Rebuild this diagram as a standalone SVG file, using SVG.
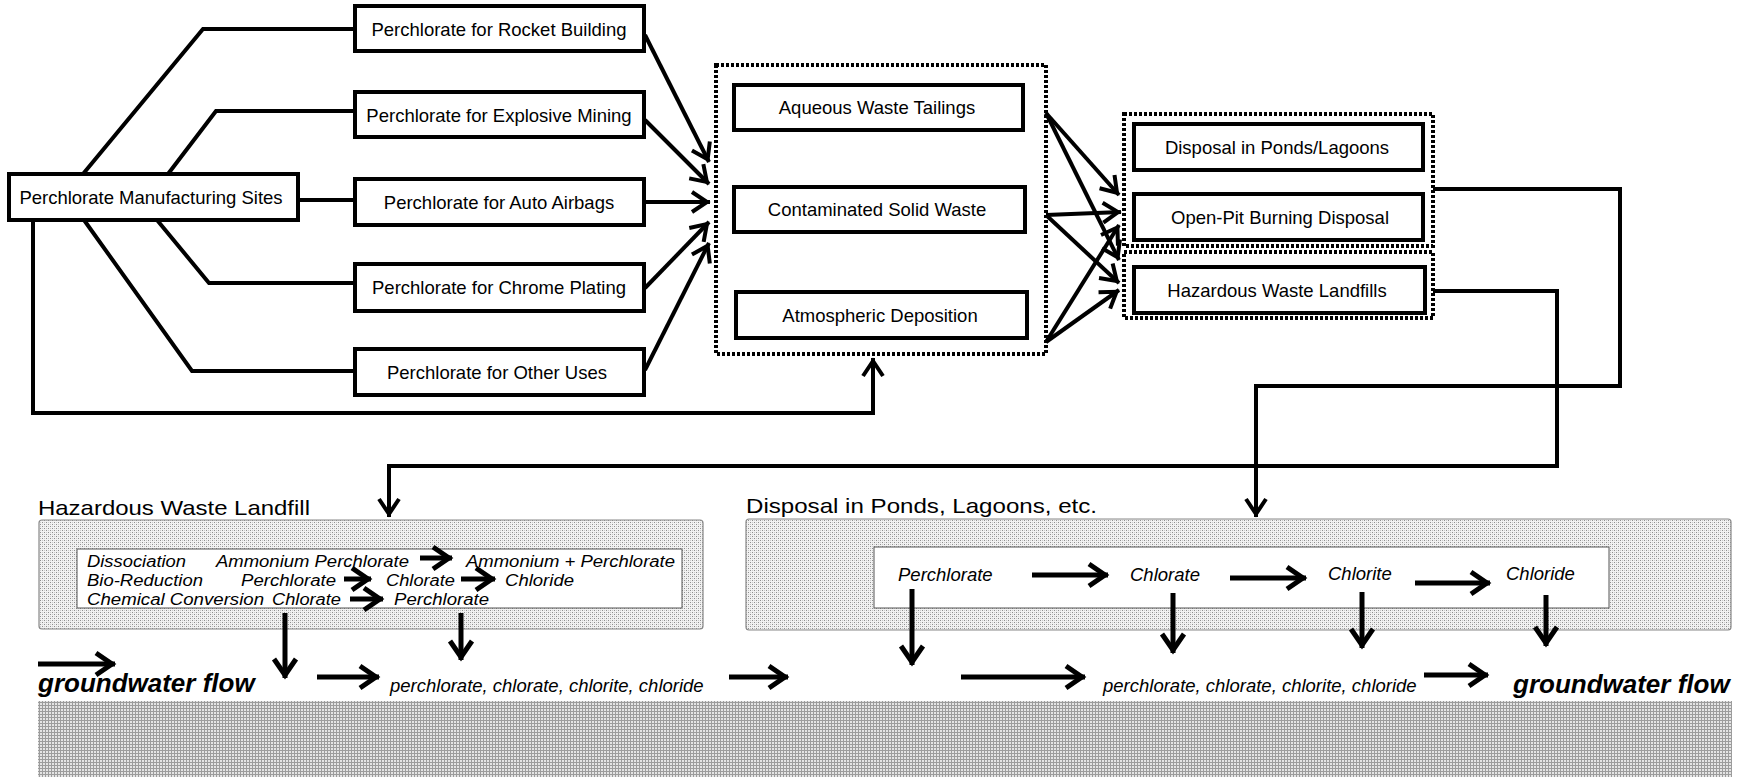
<svg xmlns="http://www.w3.org/2000/svg" width="1756" height="777" viewBox="0 0 1756 777">
<style>
.bx{fill:#fff;stroke:#000;stroke-width:4}
.dot{fill:none;stroke:#000;stroke-width:4;stroke-dasharray:3 2}
.t{font-family:"Liberation Sans",Arial,sans-serif;font-size:18.5px;fill:#000;text-anchor:middle}
.it{font-family:"Liberation Sans",Arial,sans-serif;font-size:18.5px;font-style:italic;fill:#000}
.is{font-family:"Liberation Sans",Arial,sans-serif;font-size:16px;font-style:italic;fill:#000}
.hd{font-family:"Liberation Sans",Arial,sans-serif;font-size:21px;fill:#000}
.gw{font-family:"Liberation Sans",Arial,sans-serif;font-size:26px;font-style:italic;font-weight:bold;fill:#000}
.ln{fill:none;stroke:#000;stroke-width:4;stroke-linejoin:miter}
.ar{fill:none;stroke:#000;stroke-width:4;marker-end:url(#ah)}
.ab{fill:none;stroke:#000;stroke-width:5;marker-end:url(#ab)}
.panel{fill:url(#dots);stroke:#888;stroke-width:1.2}
.inner{fill:#fff;stroke:#555;stroke-width:1}
</style>
<defs>
<marker id="ah" viewBox="-20 -14 26 28" markerWidth="26" markerHeight="28" refX="3" refY="0" orient="auto" markerUnits="userSpaceOnUse">
<path d="M-15,-10 L0,0 L-15,10" fill="none" stroke="#000" stroke-width="4"/>
</marker>
<marker id="ab" viewBox="-22 -15 28 30" markerWidth="28" markerHeight="30" refX="3" refY="0" orient="auto" markerUnits="userSpaceOnUse">
<path d="M-16,-11 L0,0 L-16,11" fill="none" stroke="#000" stroke-width="5"/>
</marker>
<pattern id="dots" width="4" height="4" patternUnits="userSpaceOnUse">
<rect width="4" height="4" fill="#f2f2f2"/>
<rect width="1" height="1" fill="#8e8e8e"/>
<rect x="2" y="2" width="1" height="1" fill="#8e8e8e"/>
<rect x="2" y="0" width="1" height="1" fill="#cacaca"/>
<rect x="0" y="2" width="1" height="1" fill="#cacaca"/>
</pattern>
<pattern id="grid" width="3" height="3" patternUnits="userSpaceOnUse">
<rect width="3" height="3" fill="#e4e4e4"/>
<path d="M0,0.5H3M0.5,0V3" stroke="#9c9c9c" stroke-width="1"/>
</pattern>
</defs>

<g id="connectors">
<path class="ln" d="M83,174 L203,29 L355,29"/>
<path class="ln" d="M168,174 L216,111 L355,111"/>
<path class="ln" d="M298,200 L355,200"/>
<path class="ln" d="M157,220 L209,283 L355,283"/>
<path class="ln" d="M84,220 L192,371 L355,371"/>
<path class="ar" d="M33,220 L33,413 L873,413 L873,358"/>
<path class="ar" d="M645,35 L709,162"/>
<path class="ar" d="M645,120 L709,184"/>
<path class="ar" d="M645,202 L710,202"/>
<path class="ar" d="M645,288 L709,222"/>
<path class="ar" d="M645,370 L709,243"/>
<path class="ar" d="M1046,113 L1119,195"/>
<path class="ar" d="M1046,113 L1119,260"/>
<path class="ar" d="M1046,215 L1121,212"/>
<path class="ar" d="M1046,215 L1119,283"/>
<path class="ar" d="M1046,342 L1119,225"/>
<path class="ar" d="M1046,342 L1119,290"/>
<path class="ar" d="M1433,189 L1620,189 L1620,386 L1256,386 L1256,517"/>
<path class="ar" d="M1433,291 L1557,291 L1557,466 L389,466 L389,517"/>
</g>

<g id="n-manufacturing"><rect class="bx" x="9" y="174" width="289" height="46"/><text class="t" x="151" y="204">Perchlorate Manufacturing Sites</text></g>
<g id="n-rocket"><rect class="bx" x="355" y="6" width="289" height="45"/><text class="t" x="499" y="36">Perchlorate for Rocket Building</text></g>
<g id="n-explosive"><rect class="bx" x="355" y="92" width="289" height="45"/><text class="t" x="499" y="122">Perchlorate for Explosive Mining</text></g>
<g id="n-airbags"><rect class="bx" x="355" y="179" width="289" height="46"/><text class="t" x="499" y="209">Perchlorate for Auto Airbags</text></g>
<g id="n-chrome"><rect class="bx" x="355" y="264" width="289" height="47"/><text class="t" x="499" y="294">Perchlorate for Chrome Plating</text></g>
<g id="n-other"><rect class="bx" x="355" y="349" width="289" height="46"/><text class="t" x="497" y="379">Perchlorate for Other Uses</text></g>

<g id="n-wastegroup"><rect class="dot" x="716" y="65" width="330" height="289"/></g>
<g id="n-aqueous"><rect class="bx" x="734" y="85" width="289" height="45"/><text class="t" x="877" y="114">Aqueous Waste Tailings</text></g>
<g id="n-solid"><rect class="bx" x="734" y="187" width="291" height="45"/><text class="t" x="877" y="216">Contaminated Solid Waste</text></g>
<g id="n-atmos"><rect class="bx" x="736" y="292" width="291" height="46"/><text class="t" x="880" y="322">Atmospheric Deposition</text></g>

<g id="n-disposalgroup"><rect class="dot" x="1124" y="114" width="309" height="132"/></g>
<g id="n-ponds"><rect class="bx" x="1134" y="124" width="289" height="46"/><text class="t" x="1277" y="154">Disposal in Ponds/Lagoons</text></g>
<g id="n-openpit"><rect class="bx" x="1134" y="194" width="289" height="46"/><text class="t" x="1280" y="224">Open-Pit Burning Disposal</text></g>
<g id="n-landfillgroup"><rect class="dot" x="1124" y="252" width="309" height="66"/></g>
<g id="n-landfills"><rect class="bx" x="1134" y="267" width="291" height="46"/><text class="t" x="1277" y="297">Hazardous Waste Landfills</text></g>

<g id="n-landfill-panel">
<text class="hd" x="38" y="515" textLength="272" lengthAdjust="spacingAndGlyphs">Hazardous Waste Landfill</text>
<rect class="panel" x="39" y="520" width="664" height="109" rx="3"/>
<rect class="inner" x="77" y="549" width="605" height="59"/>
<text class="is" x="87" y="567" textLength="99" lengthAdjust="spacingAndGlyphs">Dissociation</text>
<text class="is" x="216" y="567" textLength="193" lengthAdjust="spacingAndGlyphs">Ammonium Perchlorate</text>
<text class="is" x="466" y="567" textLength="209" lengthAdjust="spacingAndGlyphs">Ammonium + Perchlorate</text>
<text class="is" x="87" y="586" textLength="116" lengthAdjust="spacingAndGlyphs">Bio-Reduction</text>
<text class="is" x="241" y="586" textLength="95" lengthAdjust="spacingAndGlyphs">Perchlorate</text>
<text class="is" x="386" y="586" textLength="69" lengthAdjust="spacingAndGlyphs">Chlorate</text>
<text class="is" x="505" y="586" textLength="69" lengthAdjust="spacingAndGlyphs">Chloride</text>
<text class="is" x="87" y="605" textLength="177" lengthAdjust="spacingAndGlyphs">Chemical Conversion</text>
<text class="is" x="272" y="605" textLength="69" lengthAdjust="spacingAndGlyphs">Chlorate</text>
<text class="is" x="394" y="605" textLength="95" lengthAdjust="spacingAndGlyphs">Perchlorate</text>
<path class="ab" d="M420,558 L452,558"/>
<path class="ab" d="M344,579 L371,579"/>
<path class="ab" d="M461,579 L495,579"/>
<path class="ab" d="M350,599 L383,599"/>
</g>

<g id="n-ponds-panel">
<text class="hd" x="746" y="513" textLength="351" lengthAdjust="spacingAndGlyphs">Disposal in Ponds, Lagoons, etc.</text>
<rect class="panel" x="746" y="519" width="985" height="111" rx="3"/>
<rect class="inner" x="874" y="547" width="735" height="61"/>
<text class="it" x="898" y="581">Perchlorate</text>
<text class="it" x="1130" y="581">Chlorate</text>
<text class="it" x="1328" y="580">Chlorite</text>
<text class="it" x="1506" y="580">Chloride</text>
<path class="ab" d="M1032,575 L1108,575"/>
<path class="ab" d="M1230,578 L1306,578"/>
<path class="ab" d="M1415,583 L1490,583"/>
</g>

<g id="n-groundwater">
<rect x="38" y="701" width="1694" height="76" fill="url(#grid)"/>
<path class="ab" d="M38,664 L115,664"/>
<text class="gw" x="38" y="692">groundwater flow</text>
<path class="ab" d="M285,613 L285,678"/>
<path class="ab" d="M461,613 L461,660"/>
<path class="ab" d="M317,677 L379,677"/>
<text class="it" x="390" y="692">perchlorate, chlorate, chlorite, chloride</text>
<path class="ab" d="M729,677 L788,677"/>
<path class="ab" d="M912,589 L912,665"/>
<path class="ab" d="M1173,593 L1173,653"/>
<path class="ab" d="M1362,592 L1362,648"/>
<path class="ab" d="M1546,595 L1546,646"/>
<path class="ab" d="M961,677 L1085,677"/>
<text class="it" x="1103" y="692">perchlorate, chlorate, chlorite, chloride</text>
<path class="ab" d="M1424,675 L1488,675"/>
<text class="gw" x="1513" y="693">groundwater flow</text>
</g>
</svg>
